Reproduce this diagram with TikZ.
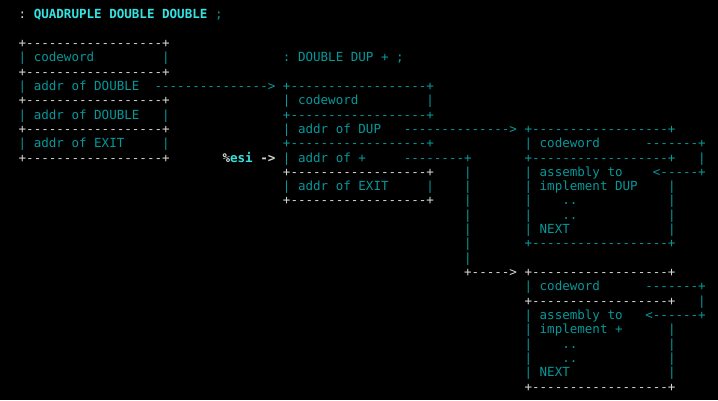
\documentclass[tikz,border=0pt]{standalone}
\usepackage{fontspec}
\setmonofont{DejaVu Sans Mono}
\definecolor{cT}{HTML}{06989A}
\definecolor{cB}{HTML}{34E2E2}
\definecolor{cW}{HTML}{D3D7CF}
\tikzset{txt/.style={inner sep=0pt,outer sep=0pt,anchor=base west,font=\ttfamily\fontsize{12.54}{14.33}\selectfont}}
\newcommand\T[4]{\node[txt,text=#3] at ({18.7+7.55*#1},{-18.7-14.33*#2}) {#4};}
\newcommand\bord{+------------------+}
\begin{document}
\begin{tikzpicture}[x=1pt,y=1pt]
\fill[black] (0,0) rectangle (718,-400);
\useasboundingbox (0,0) rectangle (718,-400);
% row 0
\T{0}{0}{cW}{:}
\T{2}{0}{cB}{\bfseries QUADRUPLE DOUBLE DOUBLE}
\T{26}{0}{cT}{;}
% row 2-10 box 1
\T{0}{2}{cW}{\bord}
\T{0}{3}{cT}{| codeword}\T{19}{3}{cT}{|}
\T{35}{3}{cT}{: DOUBLE DUP + ;}
\T{0}{4}{cW}{\bord}
\T{0}{5}{cT}{| addr of DOUBLE}\T{18}{5}{cT}{--------------->}
\T{35}{5}{cT}{\bord}
\T{0}{6}{cW}{\bord}
\T{35}{6}{cT}{| codeword}\T{54}{6}{cT}{|}
\T{0}{7}{cT}{| addr of DOUBLE}\T{19}{7}{cT}{|}
\T{35}{7}{cT}{\bord}
\T{0}{8}{cW}{\bord}
\T{35}{8}{cT}{| addr of DUP}\T{51}{8}{cT}{-------------->}
\T{67}{8}{cT}{\bord}
\T{0}{9}{cT}{| addr of EXIT}\T{19}{9}{cT}{|}
\T{35}{9}{cT}{\bord}
\T{67}{9}{cT}{| codeword}\T{83}{9}{cT}{-------+}
\T{0}{10}{cW}{\bord}
\T{27}{10}{cW}{\bfseries\%}\T{28}{10}{cB}{\bfseries esi}\T{32}{10}{cW}{\bfseries ->}
\T{35}{10}{cT}{| addr of +}\T{51}{10}{cT}{--------+}
\T{67}{10}{cT}{\bord}\T{90}{10}{cT}{|}
% row 11
\T{35}{11}{cW}{\bord}\T{59}{11}{cT}{|}
\T{67}{11}{cT}{| assembly to}\T{84}{11}{cT}{<-----+}
\T{35}{12}{cT}{| addr of EXIT}\T{54}{12}{cT}{|}\T{59}{12}{cT}{|}
\T{67}{12}{cT}{| implement DUP}\T{86}{12}{cT}{|}
\T{35}{13}{cW}{\bord}\T{59}{13}{cT}{|}
\T{67}{13}{cT}{|}\T{72}{13}{cT}{..}\T{86}{13}{cT}{|}
\T{59}{14}{cT}{|}\T{67}{14}{cT}{|}\T{72}{14}{cT}{..}\T{86}{14}{cT}{|}
\T{59}{15}{cT}{|}\T{67}{15}{cT}{| NEXT}\T{86}{15}{cT}{|}
\T{59}{16}{cT}{|}\T{67}{16}{cT}{\bord}
\T{59}{17}{cT}{|}
% box 4
\T{59}{18}{cW}{+----->}\T{67}{18}{cW}{\bord}
\T{67}{19}{cT}{| codeword}\T{83}{19}{cT}{-------+}
\T{67}{20}{cW}{\bord}\T{90}{20}{cT}{|}
\T{67}{21}{cT}{| assembly to}\T{83}{21}{cT}{<------+}
\T{67}{22}{cT}{| implement +}\T{86}{22}{cT}{|}
\T{67}{23}{cT}{|}\T{72}{23}{cT}{..}\T{86}{23}{cT}{|}
\T{67}{24}{cT}{|}\T{72}{24}{cT}{..}\T{86}{24}{cT}{|}
\T{67}{25}{cT}{| NEXT}\T{86}{25}{cT}{|}
\T{67}{26}{cW}{\bord}
\end{tikzpicture}
\end{document}
